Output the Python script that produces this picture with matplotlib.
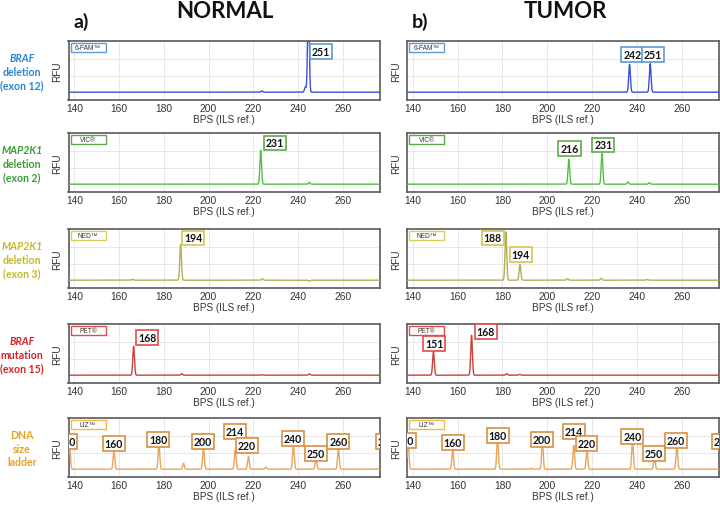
import numpy as np
import matplotlib
matplotlib.use("Agg")
import matplotlib.pyplot as plt
from matplotlib.patches import Rectangle

# ---------------- data ----------------
dye_names = ["6-FAM™", "VIC®", "NED™", "PET®", "LIZ™"]
row_line1 = ["BRAF", "MAP2K1", "MAP2K1", "BRAF", "DNA"]
row_line2 = ["deletion", "deletion", "deletion", "mutation", "size"]
row_line3 = ["(exon 12)", "(exon 2)", "(exon 3)", "(exon 15)", "ladder"]
row_line1_italic = [True, True, True, True, False]

x_ticks = [140, 160, 180, 200, 220, 240, 260]
x_range = [137.4, 276.6]

# peaks: position (bp, measured) and height (RFU, arbitrary)
fam_normal_pos = [223.8, 243.2, 244.6]
fam_normal_rfu = [18, 70, 1300]
fam_normal_lab = ["251"]
fam_normal_lab_x = [250.3]
fam_normal_lab_y = [551]

fam_tumor_pos = [236.7, 245.9]
fam_tumor_rfu = [380, 390]
fam_tumor_lab = ["242", "251"]
fam_tumor_lab_x = [237.9, 247.2]
fam_tumor_lab_y = [510, 510]

vic_normal_pos = [223.3, 245.0]
vic_normal_rfu = [465, 25]
vic_normal_lab = ["231"]
vic_normal_lab_x = [229.7]
vic_normal_lab_y = [564]

vic_tumor_pos = [209.6, 224.4, 236.0, 245.5]
vic_tumor_rfu = [340, 420, 30, 20]
vic_tumor_lab = ["216", "231"]
vic_tumor_lab_x = [209.9, 225.0]
vic_tumor_lab_y = [483, 537]

ned_normal_pos = [166.0, 187.5, 224.0, 245.0]
ned_normal_rfu = [12, 490, 20, -14]
ned_normal_lab = ["194"]
ned_normal_lab_x = [193.1]
ned_normal_lab_y = [578]

ned_tumor_pos = [181.5, 187.8, 209.0, 224.0, 244.6]
ned_tumor_rfu = [660, 215, 20, 25, 10]
ned_tumor_lab = ["188", "194"]
ned_tumor_lab_x = [175.7, 188.1]
ned_tumor_lab_y = [578, 347]

pet_normal_pos = [166.5, 188.0, 224.0, 245.0]
pet_normal_rfu = [395, 20, 6, 18]
pet_normal_lab = ["168"]
pet_normal_lab_x = [172.6]
pet_normal_lab_y = [510]

pet_tumor_pos = [149.2, 166.2, 181.9, 187.7]
pet_tumor_rfu = [325, 545, 20, 12]
pet_tumor_lab = ["151", "168"]
pet_tumor_lab_x = [149.5, 172.6]
pet_tumor_lab_y = [429, 592]

liz_normal_pos = [137.9, 157.7, 177.8, 188.8, 197.7, 211.9, 217.8, 225.6, 237.9, 248.0, 258.0, 278.0]
liz_normal_rfu = [340, 250, 355, 80, 300, 260, 175, 25, 330, 150, 285, 300]
liz_normal_lab = ["140", "160", "180", "200", "214", "220", "240", "250", "260", "270"]
liz_normal_lab_x = [136.3, 157.7, 177.5, 197.6, 211.9, 217.2, 237.8, 248.0, 258.0, 279.6]
liz_normal_lab_y = [375, 347, 406, 375, 510, 324, 415, 212, 375, 375]

liz_tumor_pos = [137.9, 157.8, 177.8, 192.6, 197.8, 211.8, 217.7, 238.0, 247.8, 257.8, 278.0]
liz_tumor_rfu = [390, 270, 445, 12, 350, 325, 270, 375, 160, 335, 300]
liz_tumor_lab = ["140", "160", "180", "200", "214", "220", "240", "250", "260", "270"]
liz_tumor_lab_x = [136.5, 157.8, 177.9, 197.7, 211.7, 217.5, 237.9, 247.7, 257.5, 278.4]
liz_tumor_lab_y = [392, 361, 460, 406, 514, 347, 446, 212, 388, 375]

# ---------------- style ----------------
trace_colors = ["#3D4FD4", "#52C043", "#B5AF52", "#C8413A", "#E9A55C"]
text_colors = ["#2A84D9", "#3C9B35", "#C7B62A", "#D42424", "#E6A31E"]
box_colors = ["#5E9BD6", "#5FA94B", "#D2C653", "#E04B4B", "#D98F40"]
dye_box_colors = ["#5E9BD6", "#5FA94B", "#D9CD55", "#E04B4B", "#F0B947"]

panels = [
    [(fam_normal_pos, fam_normal_rfu, fam_normal_lab, fam_normal_lab_x, fam_normal_lab_y),
     (fam_tumor_pos, fam_tumor_rfu, fam_tumor_lab, fam_tumor_lab_x, fam_tumor_lab_y)],
    [(vic_normal_pos, vic_normal_rfu, vic_normal_lab, vic_normal_lab_x, vic_normal_lab_y),
     (vic_tumor_pos, vic_tumor_rfu, vic_tumor_lab, vic_tumor_lab_x, vic_tumor_lab_y)],
    [(ned_normal_pos, ned_normal_rfu, ned_normal_lab, ned_normal_lab_x, ned_normal_lab_y),
     (ned_tumor_pos, ned_tumor_rfu, ned_tumor_lab, ned_tumor_lab_x, ned_tumor_lab_y)],
    [(pet_normal_pos, pet_normal_rfu, pet_normal_lab, pet_normal_lab_x, pet_normal_lab_y),
     (pet_tumor_pos, pet_tumor_rfu, pet_tumor_lab, pet_tumor_lab_x, pet_tumor_lab_y)],
    [(liz_normal_pos, liz_normal_rfu, liz_normal_lab, liz_normal_lab_x, liz_normal_lab_y),
     (liz_tumor_pos, liz_tumor_rfu, liz_tumor_lab, liz_tumor_lab_x, liz_tumor_lab_y)],
]

W, H = 720, 506
fig = plt.figure(figsize=(W / 100, H / 100), dpi=100)

LABEL_FONT = ["Lato", "DejaVu Sans"]
TICK_FONT = ["Liberation Sans", "DejaVu Sans"]

row_tops = [42, 134, 230, 325, 419]
ax_h = 58.5
col_x = [(68.5, 311.5), (407, 312)]


def px_rect(x0, top, w, h):
    return [x0 / W, 1 - (top + h) / H, w / W, h / H]


xs = np.linspace(x_range[0], x_range[1], 4000)
sigma = 0.37

for r in range(5):
    for c in range(2):
        x0, w = col_x[c]
        ax = fig.add_axes(px_rect(x0, row_tops[r], w, ax_h))
        pos, rfu, lab, lab_x, lab_y = panels[r][c]
        y = np.zeros_like(xs)
        for p, h in zip(pos, rfu):
            y += h * np.exp(-0.5 * ((xs - p) / sigma) ** 2)
        ax.plot(xs, y, color=trace_colors[r], lw=1.0, zorder=3)
        ax.set_xlim(*x_range)
        ax.set_ylim(-100, 700)
        ax.set_xticks(x_ticks)
        ax.set_yticks([220, 450])
        ax.set_yticklabels([])
        ax.grid(True, color="#e4e4e4", lw=0.6, zorder=0)
        ax.tick_params(length=0, pad=2.5, labelsize=7.4, labelcolor="#333333")
        for t in ax.get_xticklabels():
            t.set_family(TICK_FONT)
        for s in ax.spines.values():
            s.set_color("#5a5a5a")
            s.set_linewidth(1.2)
        ax.set_xlabel("BPS (ILS ref.)", fontsize=7.2, color="#333333",
                      family=TICK_FONT, labelpad=0.5)
        ax.set_ylabel("RFU", fontsize=7.2, color="#333333",
                      family=TICK_FONT, labelpad=2)
        # dye box
        bw, bh = 35 / w, 9 / ax_h
        bx, by = 2 / w, 1 - (2 + 9) / ax_h
        ax.add_patch(Rectangle((bx, by), bw, bh, transform=ax.transAxes,
                               fc="white", ec=dye_box_colors[r], lw=1.0, zorder=5))
        ax.text(bx + bw / 2, by + bh / 2, dye_names[r], transform=ax.transAxes,
                ha="center", va="center", fontsize=4.8, color="#333333",
                family=TICK_FONT, zorder=6)
        # peak labels
        for s, lx, ly in zip(lab, lab_x, lab_y):
            ax.text(lx, ly, s, ha="center", va="center", fontsize=7.6,
                    fontweight="bold", color="#111111", family=LABEL_FONT,
                    clip_on=True, zorder=7,
                    bbox=dict(boxstyle="square,pad=0.18", fc="white",
                              ec=box_colors[r], lw=1.2))

    # row labels
    yc = row_tops[r] + 17
    for i, (txt, it) in enumerate([(row_line1[r], row_line1_italic[r]),
                                   (row_line2[r], False),
                                   (row_line3[r], False)]):
        fig.text(22 / W, 1 - (yc + i * 13.3) / H, txt, ha="center", va="center",
                 fontsize=7.6, fontweight="bold", style="italic" if it else "normal",
                 color=text_colors[r], family=LABEL_FONT)

fig.text(225 / W, 1 - 12 / H, "NORMAL", ha="center", va="center", fontsize=16,
         fontweight="bold", family=LABEL_FONT, color="#111111")
fig.text(565 / W, 1 - 12 / H, "TUMOR", ha="center", va="center", fontsize=16,
         fontweight="bold", family=LABEL_FONT, color="#111111")
fig.text(81 / W, 1 - 22 / H, "a)", ha="center", va="center", fontsize=14,
         fontweight="bold", family=LABEL_FONT, color="#111111")
fig.text(420 / W, 1 - 22 / H, "b)", ha="center", va="center", fontsize=14,
         fontweight="bold", family=LABEL_FONT, color="#111111")

fig.savefig("out.png", dpi=100)
